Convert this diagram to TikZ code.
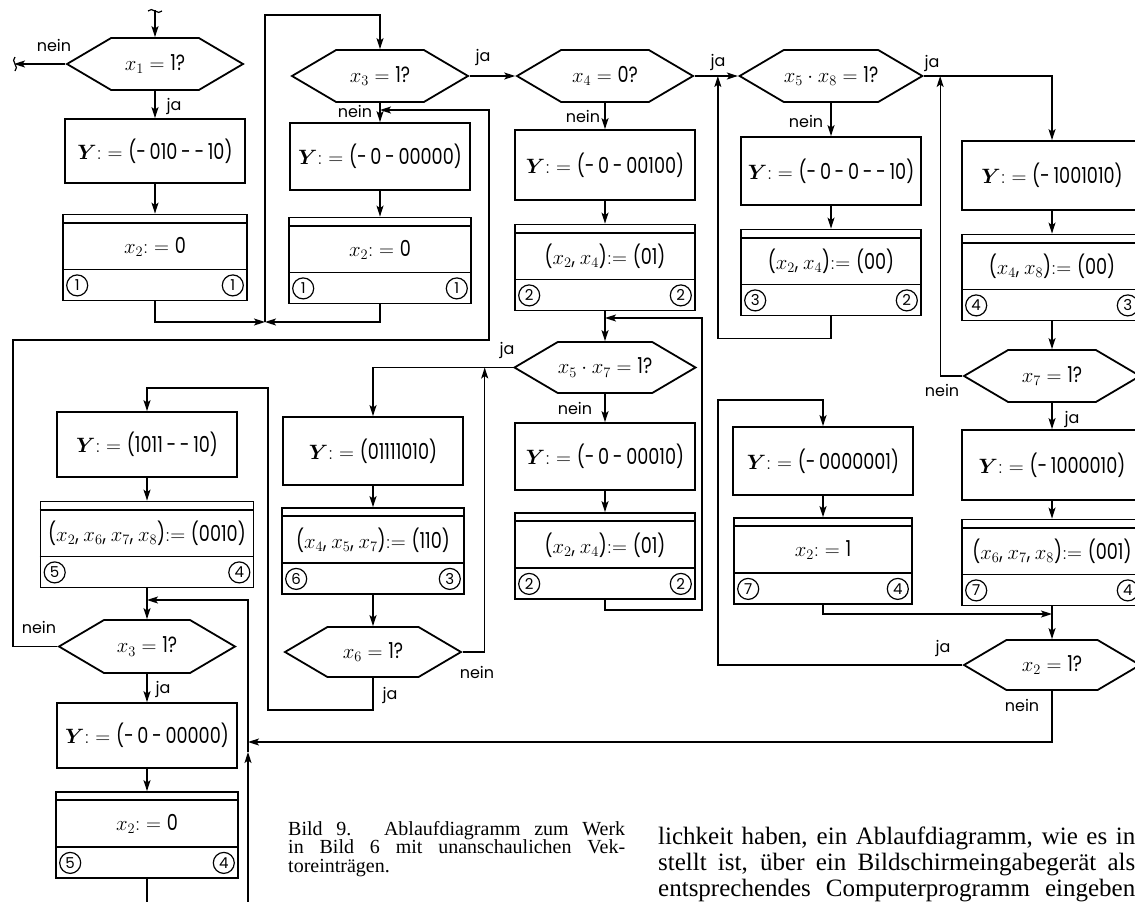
\documentclass[tikz,border=0pt]{standalone}
\usepackage{fontspec}
\usepackage{amsmath,bm}
\usetikzlibrary{shapes.symbols,arrows.meta,calc}

\newfontfamily\diafont[FakeStretch=0.8]{Poppins}
\newfontfamily\lblfont{Poppins}
\newfontfamily\textserif{Liberation Serif}

\tikzset{
  boxline/.style={line width=1.8pt},
  wire/.style={line width=1.3pt},
  flow/.style={wire,-{Stealth[length=11pt,width=7pt,inset=2.5pt]}},
  cutmark/.style={line width=1.2pt},
  dtext/.style={font=\diafont\fontsize{22}{26}\selectfont,inner sep=0pt},
  ybox/.style={draw,boxline,dtext,minimum width=180pt,minimum height=67pt},
  abox/.style={draw,boxline,inner sep=0pt,minimum height=86pt},
  hexbox/.style={draw,boxline,dtext,signal,signal to=east and west,
    signal pointer angle=61,minimum width=176pt,minimum height=52pt},
  circnum/.style={draw,circle,line width=1.2pt,minimum size=21pt,inner sep=0pt,
    font=\lblfont\fontsize{15}{15}\selectfont},
  lbl/.style={font=\lblfont\fontsize{16}{16}\selectfont,inner sep=0pt},
  capt/.style={font=\textserif\fontsize{20}{20}\selectfont,inner sep=0pt,
    text height=12pt,text depth=4pt},
  bodytext/.style={font=\textserif\fontsize{25}{25}\selectfont,inner sep=0pt,
    text height=17pt,text depth=5pt}
}

\newcommand{\Yis}{$\bm{Y}{:}={}$}
% assignment box: name, position, width, text, left and right number
\newcommand{\assignbox}[6]{%
  \node[abox,minimum width=#3] (#1) at #2 {};
  \draw[boxline] ([yshift=-9pt]#1.north west) -- ([yshift=-9pt]#1.north east);
  \draw[boxline] ([yshift=32pt]#1.south west) -- ([yshift=32pt]#1.south east);
  \node[dtext] (#1-t) at ([yshift=11pt]#1.center) {#4};
  \node[circnum,anchor=west] (#1-l) at ([xshift=4pt,yshift=16pt]#1.south west) {#5};
  \node[circnum,anchor=east] (#1-r) at ([xshift=-4pt,yshift=16pt]#1.south east) {#6};
}

\begin{document}
\begin{tikzpicture}[x=1pt,y=-1pt]
\useasboundingbox (0,0) rectangle (1135,902);
\clip (0,0) rectangle (1135,902);

% column 1, top
\node[hexbox] (t1) at (155,64) {$x_1={}$1?};
\node[ybox,minimum height=64pt] (y1) at (155,151) {\Yis(-\,010\,-\,-\,10)};
\assignbox{a1}{(155,257.5)}{184pt}{$x_2{:}={}$0}{1}{1}

% column 2, top
\node[hexbox] (t2) at (380,76) {$x_3={}$1?};
\node[ybox] (y2) at (380,156.5) {\Yis(-\,0\,-\,00000)};
\assignbox{a2}{(380,260.5)}{182pt}{$x_2{:}={}$0}{1}{1}

% column 3
\node[hexbox] (t3) at (605,76) {$x_4={}$0?};
\node[ybox,minimum height=70pt] (y3) at (605,165) {\Yis(-\,0\,-\,00100)};
\assignbox{a3}{(605,267.5)}{180pt}{($x_2$, $x_4$)$:={}$(01)}{2}{2}
\node[hexbox,minimum height=51pt] (t5) at (605,367.5) {$x_5\cdot x_7={}$1?};
\node[ybox] (y8) at (605,456.5) {\Yis(-\,0\,-\,00010)};
\assignbox{a8}{(605,556)}{180pt}{($x_2$, $x_4$)$:={}$(01)}{2}{2}

% column 4
\node[hexbox] (t4) at (831,76) {$x_5\cdot x_8={}$1?};
\node[ybox,minimum height=68pt] (y4) at (831,171) {\Yis(-\,0\,-\,0\,-\,-\,10)};
\assignbox{a4}{(831,272.5)}{180pt}{($x_2$, $x_4$)$:={}$(00)}{3}{2}
\node[ybox,minimum height=68pt] (y7) at (823,461) {\Yis(-\,0000001)};
\assignbox{a7}{(823,561)}{178pt}{$x_2{:}={}$1}{7}{4}

% column 5
\node[ybox,minimum height=69pt] (y5) at (1052,175.5) {\Yis(-\,1001010)};
\assignbox{a5}{(1052,277.5)}{180pt}{($x_4$, $x_8$)$:={}$(00)}{4}{3}
\node[hexbox] (t6) at (1052,376) {$x_7={}$1?};
\node[ybox,minimum height=70pt] (y6) at (1052,465) {\Yis(-\,1000010)};
\assignbox{a6}{(1052,562.5)}{180pt}{($x_6$, $x_7$, $x_8$)$:={}$(001)}{7}{4}
\node[hexbox,minimum height=50pt] (t8) at (1052,665) {$x_2={}$1?};

% column 2, bottom
\node[ybox,minimum height=68pt] (y9) at (373,451) {\Yis(01111010)};
\assignbox{a9}{(373,551)}{182pt}{($x_4$, $x_5$, $x_7$)$:={}$(110)}{6}{3}
\node[hexbox,minimum height=50pt] (t10) at (373,652) {$x_6={}$1?};

% column 1, bottom
\node[ybox,minimum height=65pt] (y10) at (147,444.5) {\Yis(1011\,-\,-\,10)};
\assignbox{a10}{(147,544.5)}{213pt}{($x_2$, $x_6$, $x_7$, $x_8$)$:={}$(0010)}{5}{4}
\node[hexbox,minimum height=53pt] (t7) at (147,646.5) {$x_3={}$1?};
\node[ybox,minimum height=65pt] (y11) at (147,735.5) {\Yis(-\,0\,-\,00000)};
\assignbox{a11}{(147,835)}{182pt}{$x_2{:}={}$0}{5}{4}

% joints and loose ends
\coordinate (in) at (155,10);
\coordinate (out) at (14,64);
\coordinate (j1) at (265,322);
\coordinate (j2) at (380,110);
\coordinate (j5) at (605,318);
\coordinate (j7) at (147,600);
\coordinate (j8) at (1052,614);
\coordinate (k1) at (248,742);
\coordinate (k2) at (248,752);
\coordinate (b1) at (147,902);
\coordinate (b2) at (248,902);

% connectors
\draw[flow] (in) -- (t1.north);
\draw[cutmark] ($(in)+(-7,1)$) .. controls ($(in)+(-3,-4)$) and ($(in)+(3,6)$) .. ($(in)+(7,1)$);
\draw[flow] (t1.west) -- (out);
\draw[cutmark] ($(out)+(1,-7)$) .. controls ($(out)+(-4,-3)$) and ($(out)+(6,3)$) .. ($(out)+(1,7)$);
\draw[flow] (t1.south) -- (y1.north);
\draw[flow] (y1.south) -- (a1.north);
\draw[flow] (a1.south) |- (j1);
\draw[flow] (a2.south) |- (j1);
\draw[flow] (j1) -- (265,15) -| (t2.north);
\draw[flow] (t2.east) -- (t3.west);
\draw[flow] (t2.south) -- (y2.north);
\draw[flow] (y2.south) -- (a2.north);
\draw[flow] (t3.east) -- (t4.west);
\draw[flow] (t3.south) -- (y3.north);
\draw[flow] (y3.south) -- (a3.north);
\draw[flow] (a3.south) -- (t5.north);
\draw[flow] (t4.south) -- (y4.north);
\draw[flow] (y4.south) -- (a4.north);
\draw[flow] (a4.south) -- ++(0,22) -| ([xshift=-20pt]t4.west);
\draw[flow] (t4.east) -| (y5.north);
\draw[flow] (y5.south) -- (a5.north);
\draw[flow] (a5.south) -- (t6.north);
\draw[flow] (t6.west) -| ([xshift=16pt]t4.east);
\draw[flow] (t6.south) -- (y6.north);
\draw[flow] (y6.south) -- (a6.north);
\draw[flow] (a6.south) -- (t8.north);
\draw[flow] (a7.south) |- (j8);
\draw[flow] (t8.west) -| (718,400) -| (y7.north);
\draw[flow] (y7.south) -- (a7.north);
\draw[flow] (t8.south) |- (k1);
\draw[flow] (t5.south) -- (y8.north);
\draw[flow] (y8.south) -- (a8.north);
\draw[flow] (a8.south) -- ++(0,10) -| (702,318) -- (j5);
\draw[flow] (t5.west) -| (y9.north);
\draw[flow] (y9.south) -- (a9.north);
\draw[flow] (a9.south) -- (t10.north);
\draw[flow] (t10.east) -| ([xshift=-28pt]t5.west);
\draw[flow] (t10.south) |- (268,710) -- (268,388) -| (y10.north);
\draw[flow] (y10.south) -- (a10.north);
\draw[flow] (a10.south) -- (t7.north);
\draw[flow] (b2) -- (k2);
\draw[flow] (k2) |- (j7);
\draw[flow] (t7.west) -| (13,340) -| (489,110) -- (j2);
\draw[flow] (t7.south) -- (y11.north);
\draw[flow] (y11.south) -- (a11.north);
\draw[wire] (a11.south) -- (b1);

% ja / nein
\node[lbl] (n-t1) at (54,45) {nein};
\node[lbl] (j-t1) at (174,106) {ja};
\node[lbl] (j-t2) at (483,57) {ja};
\node[lbl] (n-t2) at (355,111) {nein};
\node[lbl] (j-t3) at (718,62) {ja};
\node[lbl] (n-t3) at (583,116) {nein};
\node[lbl] (j-t4) at (932,63) {ja};
\node[lbl] (n-t4) at (806,121) {nein};
\node[lbl] (n-t6) at (942,390) {nein};
\node[lbl] (j-t6) at (1072,419) {ja};
\node[lbl] (j-t8) at (943,648) {ja};
\node[lbl] (n-t8) at (1022,705) {nein};
\node[lbl] (j-t5) at (507,350) {ja};
\node[lbl] (n-t5) at (575,408) {nein};
\node[lbl] (n-t10) at (477,672) {nein};
\node[lbl] (j-t10) at (390,695) {ja};
\node[lbl] (n-t7) at (39,627) {nein};
\node[lbl] (j-t7) at (163,689) {ja};

% caption and running text
\node[capt,anchor=base west] (cap1) at (288,835) {\makebox[337pt][s]{Bild 9. Ablaufdiagramm zum Werk}};
\node[capt,anchor=base west] (cap2) at (288,853.5) {\makebox[337pt][s]{in Bild 6 mit unanschaulichen Vek-}};
\node[capt,anchor=base west] (cap3) at (288,872) {toreinträgen.};
\node[bodytext,anchor=base west] (txt1) at (658,844) {\makebox[477pt][s]{lichkeit haben, ein Ablaufdiagramm, wie es in}};
\node[bodytext,anchor=base west] (txt2) at (658,870) {\makebox[477pt][s]{stellt ist, über ein Bildschirmeingabegerät als}};
\node[bodytext,anchor=base west] (txt3) at (658,896) {\makebox[477pt][s]{entsprechendes Computerprogramm eingeben}};
\end{tikzpicture}
\end{document}
